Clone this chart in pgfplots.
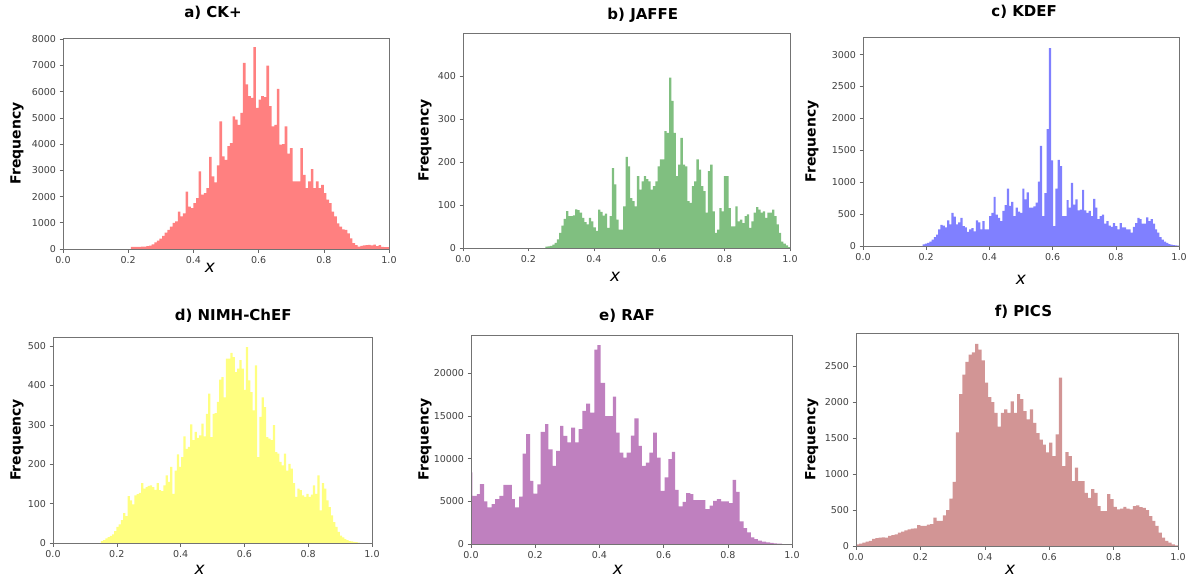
\documentclass[border=0pt]{standalone}
\usepackage{fontspec}
\setmainfont{DejaVu Sans}
\usepackage{pgfplots}
\pgfplotsset{compat=1.18}

\definecolor{hred}{HTML}{FF8080}
\definecolor{hgreen}{HTML}{80BF80}
\definecolor{hblue}{HTML}{8080FF}
\definecolor{hyellow}{HTML}{FFFF80}
\definecolor{hpurple}{HTML}{BF80BF}
\definecolor{hbrown}{HTML}{D29595}

\pgfplotsset{
  hist/.style={
    scale only axis, anchor=south west, axis on top,
    xmin=0, xmax=1, ymin=0,
    xtick={0,0.2,0.4,0.6,0.8,1},
    xticklabel style={/pgf/number format/fixed,/pgf/number format/fixed zerofill,/pgf/number format/precision=1},
    yticklabel style={/pgf/number format/1000 sep={}},
    scaled y ticks=false, scaled x ticks=false,
    /pgf/number format/assume math mode=true,
    tick align=outside, xtick pos=left, ytick pos=left,
    major tick length=3.5pt,
    tick style={black!60, line width=0.6pt},
    axis line style={black!55, line width=0.6pt},
    tick label style={font=\fontsize{9.5}{11}\selectfont, text=black!75},
    ylabel={Frequency},
    xlabel={x},
    ylabel style={font=\fontsize{14}{16}\selectfont\bfseries, anchor=center},
    xlabel style={font=\fontsize{17}{18}\selectfont\itshape, anchor=center},
    title style={font=\fontsize{15}{18}\selectfont\bfseries, anchor=center},
  },
  bars/.style={const plot, draw=none, fill=#1},
}

\begin{document}
\begin{tikzpicture}
\useasboundingbox (0,0) rectangle (1190pt,579pt);

% a) CK+
\begin{axis}[hist, at={(63pt,330pt)}, width=326pt, height=211pt,
  ymax=8050, ytick={0,1000,...,8000},
  title={a) CK+},
  title style={at={(axis description cs:0.46,1.09)}},
  ylabel style={at={(axis description cs:-0.141,0.5)}},
  xlabel style={at={(axis description cs:0.451,-0.09)}}]
\addplot[bars=hred] coordinates {
(0.208,80) (0.216,80) (0.224,80) (0.232,80) (0.240,90) (0.248,90) (0.256,110) (0.264,130)
(0.272,180) (0.280,250) (0.288,320) (0.296,400) (0.304,500) (0.312,620) (0.320,730) (0.328,850)
(0.336,1000) (0.344,1050) (0.352,1430) (0.360,1240) (0.368,1360) (0.376,2190) (0.384,1620) (0.392,1560)
(0.400,1750) (0.408,1940) (0.416,2960) (0.424,2070) (0.432,2130) (0.440,2320) (0.448,3510) (0.456,2770)
(0.464,2540) (0.472,3190) (0.480,4870) (0.488,3530) (0.496,3400) (0.504,3920) (0.512,4040) (0.520,5060)
(0.528,4940) (0.536,4740) (0.544,5190) (0.552,7100) (0.560,6280) (0.568,5830) (0.576,5770) (0.584,7700)
(0.592,5380) (0.600,5700) (0.608,5830) (0.616,5790) (0.624,7000) (0.632,5450) (0.640,4680) (0.648,4740)
(0.656,6110) (0.664,3980) (0.672,4000) (0.680,4680) (0.688,3640) (0.696,3850) (0.704,2580) (0.712,2580)
(0.720,2580) (0.728,3850) (0.736,2830) (0.744,2320) (0.752,2580) (0.760,3050) (0.768,2320) (0.776,2580)
(0.784,2320) (0.792,2450) (0.800,2130) (0.808,1880) (0.816,1750) (0.824,1430) (0.832,1240) (0.840,980)
(0.848,850) (0.856,750) (0.864,730) (0.872,600) (0.880,410) (0.888,220) (0.896,150) (0.904,90)
(0.912,115) (0.920,140) (0.928,150) (0.936,160) (0.944,140) (0.952,170) (0.960,110) (0.968,150)
(0.976,80) (0.984,70) (0.992,70) (1.000,0)
} \closedcycle;
\end{axis}

% b) JAFFE
\begin{axis}[hist, at={(463pt,331pt)}, width=327pt, height=215pt,
  ymax=500, ytick={0,100,...,400},
  title={b) JAFFE},
  title style={at={(axis description cs:0.55,1.056)}},
  ylabel style={at={(axis description cs:-0.116,0.5)}},
  xlabel style={at={(axis description cs:0.465,-0.135)}}]
\addplot[bars=hgreen] coordinates {
(0.252,3) (0.259,4) (0.266,5) (0.273,8) (0.280,12) (0.287,20) (0.294,35) (0.301,52)
(0.308,68) (0.315,86) (0.322,74) (0.329,74) (0.336,76) (0.343,90) (0.350,88) (0.357,82)
(0.364,70) (0.371,60) (0.378,55) (0.385,70) (0.392,62) (0.399,48) (0.406,40) (0.413,89)
(0.420,84) (0.427,75) (0.434,80) (0.441,47) (0.448,74) (0.455,186) (0.462,148) (0.469,66)
(0.476,43) (0.483,43) (0.490,97) (0.497,212) (0.504,190) (0.511,116) (0.518,109) (0.525,97)
(0.532,167) (0.539,136) (0.546,155) (0.553,167) (0.560,160) (0.567,155) (0.574,136) (0.581,144)
(0.588,155) (0.595,190) (0.602,206) (0.609,206) (0.616,272) (0.623,268) (0.630,396) (0.637,342)
(0.644,268) (0.651,167) (0.658,194) (0.665,256) (0.672,194) (0.679,190) (0.686,109) (0.693,105)
(0.700,144) (0.707,155) (0.714,206) (0.721,182) (0.728,144) (0.735,132) (0.742,82) (0.749,179)
(0.756,194) (0.763,85) (0.770,35) (0.777,43) (0.784,93) (0.791,85) (0.798,167) (0.805,167)
(0.812,93) (0.819,50) (0.826,50) (0.833,97) (0.840,62) (0.847,66) (0.854,58) (0.861,74)
(0.868,78) (0.875,47) (0.882,62) (0.889,82) (0.896,95) (0.903,89) (0.910,82) (0.917,85)
(0.924,70) (0.931,82) (0.938,82) (0.945,89) (0.952,74) (0.959,55) (0.966,35) (0.973,15)
(0.980,10) (0.987,6) (0.994,2) (1.000,0)
} \closedcycle;
\end{axis}

% c) KDEF
\begin{axis}[hist, at={(863pt,333pt)}, width=316pt, height=209pt,
  ymax=3275, ytick={0,500,...,3000},
  title={c) KDEF},
  title style={at={(axis description cs:0.51,1.09)}},
  ylabel style={at={(axis description cs:-0.161,0.5)}},
  xlabel style={at={(axis description cs:0.5,-0.163)}}]
\addplot[bars=hblue] coordinates {
(0.189,26) (0.196,36) (0.203,50) (0.210,70) (0.217,100) (0.224,140) (0.231,180) (0.238,260)
(0.245,330) (0.252,320) (0.259,290) (0.266,400) (0.273,340) (0.280,520) (0.287,460) (0.294,340)
(0.301,370) (0.308,440) (0.315,310) (0.322,290) (0.329,220) (0.336,260) (0.343,280) (0.350,230)
(0.357,400) (0.364,370) (0.371,260) (0.378,390) (0.385,260) (0.392,260) (0.399,470) (0.406,520)
(0.413,770) (0.420,490) (0.427,440) (0.434,390) (0.441,550) (0.448,640) (0.455,900) (0.462,630)
(0.469,690) (0.476,470) (0.483,600) (0.490,540) (0.497,520) (0.504,900) (0.511,730) (0.518,840)
(0.525,600) (0.532,600) (0.539,620) (0.546,680) (0.553,1010) (0.560,1570) (0.567,470) (0.574,830)
(0.581,1830) (0.588,3100) (0.595,1340) (0.602,310) (0.609,900) (0.616,1350) (0.623,1250) (0.630,470)
(0.637,470) (0.644,720) (0.651,600) (0.658,990) (0.665,650) (0.672,730) (0.679,560) (0.686,570)
(0.693,880) (0.700,560) (0.707,520) (0.714,550) (0.721,470) (0.728,740) (0.735,600) (0.742,420)
(0.749,470) (0.756,490) (0.763,350) (0.770,390) (0.777,320) (0.784,300) (0.791,360) (0.798,310)
(0.805,260) (0.812,360) (0.819,290) (0.826,290) (0.833,260) (0.840,260) (0.847,210) (0.854,300)
(0.861,360) (0.868,440) (0.875,420) (0.882,350) (0.889,350) (0.896,450) (0.903,390) (0.910,420)
(0.917,350) (0.924,260) (0.931,210) (0.938,140) (0.945,100) (0.952,70) (0.959,50) (0.966,30)
(0.973,20) (0.980,15) (0.987,8) (0.994,4) (1.000,0)
} \closedcycle;
\end{axis}

% d) NIMH-ChEF
\begin{axis}[hist, at={(53pt,36pt)}, width=319pt, height=206pt,
  ymax=523, ytick={0,100,...,500},
  title={d) NIMH-ChEF},
  title style={at={(axis description cs:0.565,1.073)}},
  ylabel style={at={(axis description cs:-0.113,0.5)}},
  xlabel style={at={(axis description cs:0.46,-0.13)}}]
\addplot[bars=hyellow] coordinates {
(0.150,5) (0.157,7) (0.164,12) (0.171,15) (0.178,18) (0.185,22) (0.192,30) (0.199,41)
(0.206,47) (0.213,58) (0.220,76) (0.227,68) (0.234,119) (0.241,108) (0.248,98) (0.255,121)
(0.262,124) (0.269,127) (0.276,152) (0.283,138) (0.290,142) (0.297,145) (0.304,146) (0.311,142)
(0.318,135) (0.325,152) (0.332,134) (0.339,132) (0.346,146) (0.353,172) (0.360,155) (0.367,193)
(0.374,125) (0.381,184) (0.388,225) (0.395,193) (0.402,218) (0.409,271) (0.416,239) (0.423,244)
(0.430,301) (0.437,261) (0.444,282) (0.451,267) (0.458,273) (0.465,303) (0.472,271) (0.479,328)
(0.486,379) (0.493,269) (0.500,328) (0.507,330) (0.514,358) (0.521,415) (0.528,421) (0.535,370)
(0.542,468) (0.549,468) (0.556,483) (0.563,472) (0.570,434) (0.577,443) (0.584,464) (0.591,443)
(0.598,389) (0.605,497) (0.612,413) (0.619,383) (0.626,337) (0.633,451) (0.640,218) (0.647,320)
(0.654,370) (0.661,345) (0.668,269) (0.675,265) (0.682,261) (0.689,299) (0.696,231) (0.703,227)
(0.710,206) (0.717,197) (0.724,227) (0.731,184) (0.738,201) (0.745,189) (0.752,152) (0.759,117)
(0.766,138) (0.773,134) (0.780,121) (0.787,117) (0.794,125) (0.801,117) (0.808,123) (0.815,146)
(0.822,125) (0.829,172) (0.836,83) (0.843,152) (0.850,138) (0.857,108) (0.864,91) (0.871,70)
(0.878,53) (0.885,41) (0.892,28) (0.899,19) (0.906,14) (0.913,10) (0.920,7) (0.927,5)
(0.934,4) (0.941,3) (0.948,2) (0.955,1) (0.962,0)
} \closedcycle;
\end{axis}

% e) RAF
\begin{axis}[hist, at={(471pt,35pt)}, width=321pt, height=209pt,
  ymax=24500, ytick={0,5000,...,20000},
  title={e) RAF},
  title style={at={(axis description cs:0.486,1.062)}},
  ylabel style={at={(axis description cs:-0.143,0.5)}},
  xlabel style={at={(axis description cs:0.458,-0.125)}}]
\addplot[bars=hpurple] coordinates {
(0.000,8400) (0.004,5650) (0.018,5850) (0.028,7020) (0.041,5000) (0.051,4300) (0.064,4680) (0.075,5270)
(0.088,5650) (0.101,6940) (0.113,6940) (0.127,5270) (0.137,4290) (0.150,5540) (0.161,10600) (0.172,12870)
(0.184,7400) (0.194,5900) (0.207,7000) (0.217,13140) (0.231,14040) (0.241,11100) (0.254,9170) (0.265,10920)
(0.278,13850) (0.288,12680) (0.300,11900) (0.312,13650) (0.324,11900) (0.335,13460) (0.347,15600) (0.359,16460)
(0.371,15400) (0.384,22800) (0.394,23300) (0.404,18900) (0.418,15000) (0.430,15000) (0.442,17280) (0.452,13060)
(0.463,10700) (0.475,10140) (0.485,10720) (0.498,12700) (0.509,14740) (0.522,11500) (0.532,9170) (0.545,9550)
(0.556,10700) (0.567,13060) (0.579,10140) (0.591,6240) (0.603,7800) (0.615,9950) (0.626,10800) (0.636,6350)
(0.647,4400) (0.659,4950) (0.670,5970) (0.683,5850) (0.693,5150) (0.707,5150) (0.719,5150) (0.730,4100)
(0.743,4500) (0.754,5070) (0.766,5270) (0.779,5000) (0.789,5000) (0.803,4800) (0.815,7530) (0.826,6120)
(0.837,2650) (0.849,1870) (0.860,1370) (0.872,780) (0.883,585) (0.894,390) (0.906,270) (0.919,195)
(0.932,120) (0.943,80) (0.953,40) (0.969,0)
} \closedcycle;
\end{axis}

% f) PICS
\begin{axis}[hist, at={(856pt,33pt)}, width=322pt, height=213pt,
  ymax=2960, ytick={0,500,...,2500},
  title={f) PICS},
  title style={at={(axis description cs:0.52,1.07)}},
  ylabel style={at={(axis description cs:-0.137,0.5)}},
  xlabel style={at={(axis description cs:0.479,-0.11)}}]
\addplot[bars=hbrown] coordinates {
(0.00,23) (0.01,32) (0.02,46) (0.03,60) (0.04,70) (0.05,100) (0.06,110) (0.07,115)
(0.08,120) (0.09,115) (0.10,140) (0.11,150) (0.12,160) (0.13,185) (0.14,200) (0.15,218)
(0.16,230) (0.17,240) (0.18,245) (0.19,290) (0.20,280) (0.21,280) (0.22,296) (0.23,305)
(0.24,395) (0.25,350) (0.26,350) (0.27,425) (0.28,500) (0.29,660) (0.30,890) (0.31,1580)
(0.32,2110) (0.33,2380) (0.34,2560) (0.35,2660) (0.36,2690) (0.37,2810) (0.38,2730) (0.39,2580)
(0.40,2270) (0.41,2070) (0.42,2000) (0.43,1850) (0.44,1660) (0.45,1850) (0.46,1900) (0.47,1850)
(0.48,2010) (0.49,1850) (0.50,2110) (0.51,2040) (0.52,1875) (0.53,1760) (0.54,1900) (0.55,1710)
(0.56,1570) (0.57,1480) (0.58,1410) (0.59,1300) (0.60,1435) (0.61,1250) (0.62,1550) (0.63,2340)
(0.64,1110) (0.65,1305) (0.66,1250) (0.67,900) (0.68,1090) (0.69,900) (0.70,900) (0.71,740)
(0.72,670) (0.73,790) (0.74,740) (0.75,555) (0.76,485) (0.77,485) (0.78,720) (0.79,650)
(0.80,545) (0.81,510) (0.82,520) (0.83,545) (0.84,520) (0.85,510) (0.86,555) (0.87,565)
(0.88,540) (0.89,530) (0.90,500) (0.91,415) (0.92,350) (0.93,280) (0.94,185) (0.95,115)
(0.96,70) (0.97,46) (0.98,23) (0.99,10) (1.00,0)
} \closedcycle;
\end{axis}

\end{tikzpicture}
\end{document}
